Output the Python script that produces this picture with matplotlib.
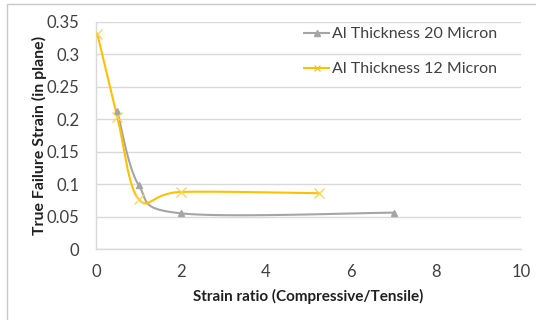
import numpy as np
import matplotlib
matplotlib.use('Agg')
import matplotlib.pyplot as plt
from matplotlib.patches import Rectangle

# data
x_20 = [0.5, 1.0, 2.0, 7.0]
y_20 = [0.213, 0.099, 0.055, 0.056]
x_12 = [0.03, 0.5, 1.0, 2.0, 5.25]
y_12 = [0.332, 0.204, 0.077, 0.088, 0.086]
label_20 = 'Al Thickness 20 Micron'
label_12 = 'Al Thickness 12 Micron'
x_ticks = [0, 2, 4, 6, 8, 10]
y_ticks = [0, 0.05, 0.1, 0.15, 0.2, 0.25, 0.3, 0.35]
y_tick_labels = ['0', '0.05', '0.1', '0.15', '0.2', '0.25', '0.3', '0.35']


def smooth(xs, ys, n=40):
    # excel style smoothed line: bezier through the points (catmull-rom controls)
    p = np.column_stack([xs, ys]).astype(float)
    out = []
    for i in range(len(p) - 1):
        p0 = p[i - 1] if i > 0 else p[i]
        p1 = p[i]
        p2 = p[i + 1]
        p3 = p[i + 2] if i + 2 < len(p) else p[i + 1]
        c1 = p1 + (p2 - p0) / 6
        c2 = p2 - (p3 - p1) / 6
        t = np.linspace(0, 1, n)[:, None]
        seg = ((1 - t) ** 3) * p1 + 3 * ((1 - t) ** 2) * t * c1 + 3 * (1 - t) * t ** 2 * c2 + t ** 3 * p2
        out.append(seg if i == 0 else seg[1:])
    out = np.vstack(out)
    return out[:, 0], out[:, 1]


plt.rcParams['font.family'] = ['Lato', 'DejaVu Sans']

fig = plt.figure(figsize=(5.36, 3.2), dpi=100)
fig.patches.append(Rectangle((7 / 536, -0.1), 1.2, 1 - 4 / 320 + 0.1, transform=fig.transFigure,
                             fill=False, edgecolor='#c8c8c8', linewidth=1.0))
ax = fig.add_axes([96 / 536, 1 - 249 / 320, (521 - 96) / 536, (249 - 22) / 320])

gray = '#a5a5a5'
gold = '#ffc000'

sx, sy = smooth(x_20, y_20)
ax.plot(sx, sy, color=gray, lw=1.5, zorder=3)
ax.plot(x_20, y_20, ls='none', marker='^', color=gray, ms=5, zorder=4)
sx, sy = smooth(x_12, y_12)
ax.plot(sx, sy, color=gold, lw=1.5, zorder=3)
ax.plot(x_12, y_12, ls='none', marker='x', color='#ffd24d', ms=7, mew=0.9, zorder=4)

# legend proxies
ax.plot([], [], color=gray, lw=1.5, marker='^', ms=4, label=label_20)
ax.plot([], [], color=gold, lw=1.5, marker='x', ms=5, mew=0.8, label=label_12)
h, l = ax.get_legend_handles_labels()
ax.legend(h[-2:], l[-2:], loc='upper left', bbox_to_anchor=(0.455, 1.04), frameon=False,
          handlelength=1.6, handletextpad=0.15, labelspacing=1.3, fontsize=11.5,
          labelcolor='#404040')

ax.set_xlim(0, 10)
ax.set_ylim(0, 0.35)
ax.set_xticks(x_ticks)
ax.set_yticks(y_ticks)
ax.set_yticklabels(y_tick_labels)
ax.tick_params(length=0, labelsize=12, labelcolor='#404040', pad=11)
ax.tick_params(axis='y', pad=12)
ax.grid(axis='y', color='#d9d9d9', lw=1.0)
ax.set_axisbelow(True)
for s in ['top', 'right']:
    ax.spines[s].set_visible(False)
for s in ['left', 'bottom']:
    ax.spines[s].set_color('#d9d9d9')
    ax.spines[s].set_linewidth(1.0)

ax.set_xlabel('Strain ratio (Compressive/Tensile)', fontsize=11, fontweight='bold', color='#202020', labelpad=6)
ax.set_ylabel('True Failure Strain (in plane)', fontsize=11.4, fontweight='bold', color='#202020', labelpad=0)

plt.savefig('out.png', dpi=100)
